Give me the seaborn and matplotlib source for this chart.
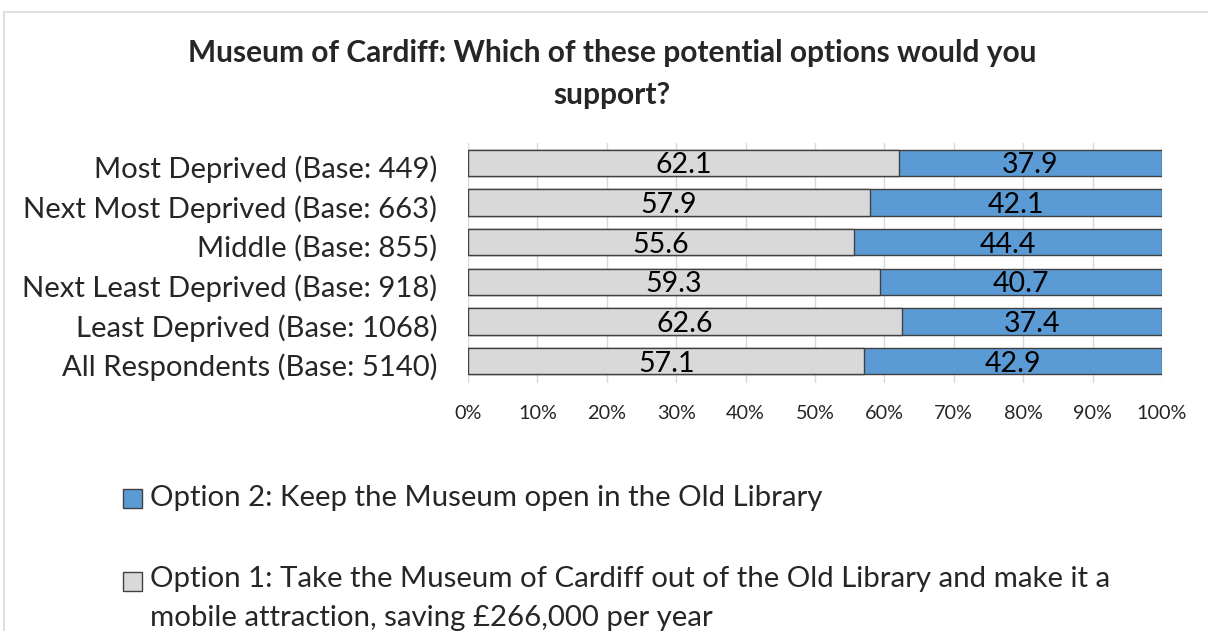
import pandas as pd
import matplotlib.pyplot as plt
import seaborn as sns
import matplotlib.transforms as mtransforms
from matplotlib.patches import Rectangle

# Data
categories = ["Most Deprived (Base: 449)", "Next Most Deprived (Base: 663)",
              "Middle (Base: 855)", "Next Least Deprived (Base: 918)",
              "Least Deprived (Base: 1068)", "All Respondents (Base: 5140)"]
option1 = [62.1, 57.9, 55.6, 59.3, 62.6, 57.1]
option2 = [37.9, 42.1, 44.4, 40.7, 37.4, 42.9]
legend_labels = ["Option 2: Keep the Museum open in the Old Library",
                 "Option 1: Take the Museum of Cardiff out of the Old Library and make it a\n"
                 "mobile attraction, saving £266,000 per year"]
colors = {"opt1": "#D9D9D9", "opt2": "#5B9BD5"}

df = pd.DataFrame({"group": categories, "opt1": option1, "opt2": option2})
df["total"] = df["opt1"] + df["opt2"]

sns.set_theme(style="white")
plt.rcParams["font.family"] = ["Lato", "DejaVu Sans"]

fig = plt.figure(figsize=(12.08, 6.31), dpi=100)
ax = fig.add_axes([468 / 1208, 1 - 383 / 631, 694 / 1208, 240 / 631])

# stacked bars: full bar in blue, option 1 drawn over it in grey
sns.barplot(data=df, x="total", y="group", color=colors["opt2"], width=0.66,
            edgecolor="#404040", linewidth=1, saturation=1, ax=ax, zorder=2)
sns.barplot(data=df, x="opt1", y="group", color=colors["opt1"], width=0.66,
            edgecolor="#404040", linewidth=1, saturation=1, ax=ax, zorder=3)

for i, row in df.iterrows():
    ax.text(row["opt1"] / 2, i + 0.06, f"{row['opt1']:.1f}", ha="center", va="center",
            fontsize=20.5, color="black", zorder=4)
    ax.text(row["opt1"] + row["opt2"] / 2, i + 0.06, f"{row['opt2']:.1f}", ha="center",
            va="center", fontsize=20.5, color="black", zorder=4)

ax.set_xlim(0, 100)
ax.set_ylim(5.55, -0.5)
ax.set_xticks(range(0, 101, 10))
ax.set_xticklabels([f"{t}%" for t in range(0, 101, 10)], fontsize=14.3)
ax.tick_params(axis="y", labelsize=21.1, length=0, pad=22)
ax.tick_params(axis="x", length=0, pad=16)
ax.grid(axis="x", color="#D9D9D9", linewidth=1, zorder=0)
ax.set_axisbelow(True)
ax.set_xlabel("")
ax.set_ylabel("")
for s in ax.spines.values():
    s.set_visible(False)

# nudge the category labels down a little, like the original
shift = mtransforms.ScaledTranslation(0, -4 / 100, fig.dpi_scale_trans)
for lab in ax.get_yticklabels():
    lab.set_transform(lab.get_transform() + shift)

# baseline here is the baseline of the last line
fig.text(612 / 1208, 1 - 104 / 631,
         "Museum of Cardiff: Which of these potential options would you\nsupport?",
         ha="center", va="baseline", fontsize=21.5, fontweight="bold", linespacing=1.62)

# legend, drawn by hand so the square sits on the first text line
sq = 19
for (lbl, key, y, base) in [(legend_labels[0], "opt2", 498, 506),
                            (legend_labels[1], "opt1", 581, 626)]:
    fig.add_artist(Rectangle((123 / 1208, 1 - (y + sq / 2) / 631), sq / 1208, sq / 631,
                             transform=fig.transFigure, facecolor=colors[key],
                             edgecolor="#404040", linewidth=1))
    fig.text(150 / 1208, 1 - base / 631, lbl, ha="left", va="baseline",
             fontsize=21.2, linespacing=1.6)

# chart border
fig.add_artist(Rectangle((4 / 1208, -0.1), 1.2, 1.1 - 12 / 631,
                         transform=fig.transFigure, fill=False,
                         edgecolor="#D9D9D9", linewidth=1.2))

fig.savefig("out.png", dpi=100)
